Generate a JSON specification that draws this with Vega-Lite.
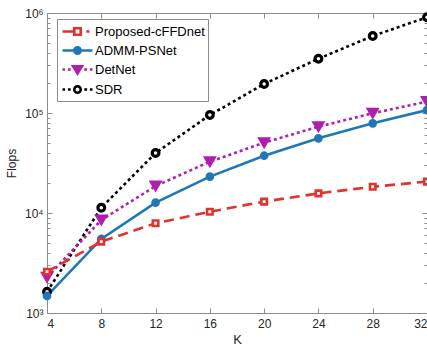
{
  "$schema": "https://vega.github.io/schema/vega-lite/v6.json",
  "width": 380,
  "height": 300,
  "autosize": {"type": "none"},
  "padding": {"left": 47, "top": 13, "right": 0, "bottom": 36},
  "background": "white",
  "config": {
    "font": "Liberation Sans",
    "view": {"stroke": null},
    "axis": {
      "domainColor": "#8c8c8c",
      "domainWidth": 1,
      "tickColor": "#8c8c8c",
      "grid": false,
      "labelColor": "#262626",
      "labelFontSize": 12,
      "titleColor": "#262626",
      "titleFontSize": 12,
      "titleFontWeight": "normal"
    }
  },
  "data": {
    "values": [
      {"K": 4, "method": "Proposed-cFFDnet", "flops": 2590},
      {"K": 8, "method": "Proposed-cFFDnet", "flops": 5170},
      {"K": 12, "method": "Proposed-cFFDnet", "flops": 7890},
      {"K": 16, "method": "Proposed-cFFDnet", "flops": 10300},
      {"K": 20, "method": "Proposed-cFFDnet", "flops": 13000},
      {"K": 24, "method": "Proposed-cFFDnet", "flops": 15700},
      {"K": 28, "method": "Proposed-cFFDnet", "flops": 18300},
      {"K": 32, "method": "Proposed-cFFDnet", "flops": 20600},
      {"K": 4, "method": "ADMM-PSNet", "flops": 1480},
      {"K": 8, "method": "ADMM-PSNet", "flops": 5500},
      {"K": 12, "method": "ADMM-PSNet", "flops": 12700},
      {"K": 16, "method": "ADMM-PSNet", "flops": 23100},
      {"K": 20, "method": "ADMM-PSNet", "flops": 37400},
      {"K": 24, "method": "ADMM-PSNet", "flops": 55800},
      {"K": 28, "method": "ADMM-PSNet", "flops": 78800},
      {"K": 32, "method": "ADMM-PSNet", "flops": 107000},
      {"K": 4, "method": "DetNet", "flops": 2280},
      {"K": 8, "method": "DetNet", "flops": 8510},
      {"K": 12, "method": "DetNet", "flops": 18600},
      {"K": 16, "method": "DetNet", "flops": 32600},
      {"K": 20, "method": "DetNet", "flops": 50500},
      {"K": 24, "method": "DetNet", "flops": 73000},
      {"K": 28, "method": "DetNet", "flops": 99300},
      {"K": 32, "method": "DetNet", "flops": 130000},
      {"K": 4, "method": "SDR", "flops": 1630},
      {"K": 8, "method": "SDR", "flops": 11300},
      {"K": 12, "method": "SDR", "flops": 39800},
      {"K": 16, "method": "SDR", "flops": 95500},
      {"K": 20, "method": "SDR", "flops": 195000},
      {"K": 24, "method": "SDR", "flops": 349000},
      {"K": 28, "method": "SDR", "flops": 589000},
      {"K": 32, "method": "SDR", "flops": 906000}
    ]
  },
  "layer": [
    {
      "transform": [{"filter": "datum.method === 'SDR'"}],
      "mark": {"type": "line", "strokeWidth": 2.6, "color": "#000000", "strokeDash": [3, 3]},
      "encoding": {
        "x": {
          "field": "K",
          "type": "quantitative",
          "scale": {"domain": [4, 32], "nice": false, "zero": false},
          "axis": {
            "orient": "bottom",
            "values": [4, 8, 12, 16, 20, 24, 28, 32],
            "tickSize": -5,
            "labelPadding": 10,
            "title": "K",
            "titlePadding": 4,
            "titleFontSize": 13
          }
        },
        "y": {
          "field": "flops",
          "type": "quantitative",
          "scale": {"type": "log", "domain": [1000, 1000000], "nice": false},
          "axis": {
            "orient": "left",
            "values": [1000, 2000, 3000, 4000, 5000, 6000, 7000, 8000, 9000, 10000, 20000, 30000, 40000, 50000, 60000, 70000, 80000, 90000, 100000, 200000, 300000, 400000, 500000, 600000, 700000, 800000, 900000, 1000000],
            "labelExpr": "datum.value == 1000 ? '10³' : datum.value == 10000 ? '10⁴' : datum.value == 100000 ? '10⁵' : datum.value == 1000000 ? '10⁶' : ''",
            "tickSize": {"condition": {"test": "indexof([1000, 10000, 100000, 1000000], datum.value) >= 0", "value": -5}, "value": -3},
            "labelPadding": 9,
            "labelFlush": false,
            "labelOverlap": false,
            "title": "Flops",
            "titlePadding": 6
          }
        }
      }
    },
    {
      "transform": [{"filter": "datum.method === 'DetNet'"}],
      "mark": {"type": "line", "strokeWidth": 2.6, "color": "#b01eb0", "strokeDash": [3, 3]},
      "encoding": {
        "x": {"field": "K", "type": "quantitative", "axis": null},
        "y": {"field": "flops", "type": "quantitative", "axis": null}
      }
    },
    {
      "transform": [{"filter": "datum.method === 'ADMM-PSNet'"}],
      "mark": {"type": "line", "strokeWidth": 2.6, "color": "#1f77b8"},
      "encoding": {
        "x": {"field": "K", "type": "quantitative", "axis": null},
        "y": {"field": "flops", "type": "quantitative", "axis": null}
      }
    },
    {
      "transform": [{"filter": "datum.method === 'Proposed-cFFDnet'"}],
      "mark": {"type": "line", "strokeWidth": 2.6, "color": "#e3312b", "strokeDash": [10, 6]},
      "encoding": {
        "x": {"field": "K", "type": "quantitative", "axis": null},
        "y": {"field": "flops", "type": "quantitative", "axis": null}
      }
    },
    {
      "transform": [{"filter": "datum.method === 'SDR'"}],
      "mark": {"type": "point", "shape": "circle", "size": 45, "stroke": "#000000", "fill": "#ffffff", "strokeWidth": 3.2, "opacity": 1},
      "encoding": {
        "x": {
          "field": "K",
          "type": "quantitative",
          "axis": {
            "orient": "top",
            "values": [4, 8, 12, 16, 20, 24, 28, 32],
            "tickSize": -5,
            "labels": false,
            "title": null
          }
        },
        "y": {
          "field": "flops",
          "type": "quantitative",
          "axis": {
            "orient": "right",
            "values": [1000, 2000, 3000, 4000, 5000, 6000, 7000, 8000, 9000, 10000, 20000, 30000, 40000, 50000, 60000, 70000, 80000, 90000, 100000, 200000, 300000, 400000, 500000, 600000, 700000, 800000, 900000, 1000000],
            "tickSize": {"condition": {"test": "indexof([1000, 10000, 100000, 1000000], datum.value) >= 0", "value": -5}, "value": -3},
            "labels": false,
            "title": null
          }
        }
      }
    },
    {
      "transform": [{"filter": "datum.method === 'DetNet'"}],
      "mark": {"type": "point", "shape": "triangle-down", "size": 110, "stroke": "#b01eb0", "fill": "#b01eb0", "strokeWidth": 2, "opacity": 1},
      "encoding": {
        "x": {"field": "K", "type": "quantitative", "axis": null},
        "y": {"field": "flops", "type": "quantitative", "axis": null}
      }
    },
    {
      "transform": [{"filter": "datum.method === 'ADMM-PSNet'"}],
      "mark": {"type": "point", "shape": "circle", "size": 45, "stroke": "#1f77b8", "fill": "#1f77b8", "strokeWidth": 2, "opacity": 1},
      "encoding": {
        "x": {"field": "K", "type": "quantitative", "axis": null},
        "y": {"field": "flops", "type": "quantitative", "axis": null}
      }
    },
    {
      "transform": [{"filter": "datum.method === 'Proposed-cFFDnet'"}],
      "mark": {"type": "point", "shape": "square", "size": 30, "stroke": "#e3312b", "fill": "#ffffff", "strokeWidth": 2.6, "opacity": 1},
      "encoding": {
        "x": {"field": "K", "type": "quantitative", "axis": null},
        "y": {"field": "flops", "type": "quantitative", "axis": null}
      }
    },
    {
      "mark": {"type": "point", "opacity": 0, "strokeWidth": 2.6},
      "encoding": {
        "x": {"field": "K", "type": "quantitative", "axis": null},
        "y": {"field": "flops", "type": "quantitative", "axis": null},
        "color": {
          "field": "method",
          "type": "nominal",
          "scale": {
            "domain": ["Proposed-cFFDnet", "ADMM-PSNet", "DetNet", "SDR"],
            "range": ["#e3312b", "#1f77b8", "#b01eb0", "#000000"]
          },
          "legend": {
            "title": null,
            "orient": "none",
            "legendX": 10,
            "legendY": 6,
            "symbolSize": 256,
            "symbolStrokeWidth": 2.6,
            "symbolOpacity": 1,
            "symbolOffset": 8,
            "labelOffset": 8,
            "labelFontSize": 13,
            "labelColor": "#000000",
            "rowPadding": 1,
            "strokeColor": "#8c8c8c",
            "fillColor": "white",
            "padding": 3
          }
        },
        "shape": {
          "field": "method",
          "type": "nominal",
          "scale": {
            "domain": ["Proposed-cFFDnet", "ADMM-PSNet", "DetNet", "SDR"],
            "range": [
              "M-1.875,0H-0.45M-0.4,-0.4H0.4V0.4H-0.4ZM1.1,0H1.5",
              "M-1.875,0H1.875M0.4,0A0.4,0.4 0 1,1 -0.4,0A0.4,0.4 0 1,1 0.4,0ZM0.12,0A0.12,0.12 0 1,1 -0.12,0A0.12,0.12 0 1,1 0.12,0Z",
              "M-1.875,0H-1.55M-1.2,0H-0.85M0.85,0H1.2M1.55,0H1.875M-0.55,-0.4H0.55L0,0.5ZM-0.2,-0.2H0.2L0,0.1Z",
              "M-1.875,0H-1.55M-1.2,0H-0.85M0.85,0H1.2M1.55,0H1.875M0.4,0A0.4,0.4 0 1,1 -0.4,0A0.4,0.4 0 1,1 0.4,0Z"
            ]
          },
          "legend": {
            "title": null,
            "orient": "none",
            "legendX": 10,
            "legendY": 6,
            "symbolSize": 256,
            "symbolStrokeWidth": 2.6,
            "symbolOpacity": 1,
            "symbolOffset": 8,
            "labelOffset": 8,
            "labelFontSize": 13,
            "labelColor": "#000000",
            "rowPadding": 1,
            "strokeColor": "#8c8c8c",
            "fillColor": "white",
            "padding": 3
          }
        }
      }
    }
  ],
  "resolve": {"axis": {"x": "independent", "y": "independent"}}
}
